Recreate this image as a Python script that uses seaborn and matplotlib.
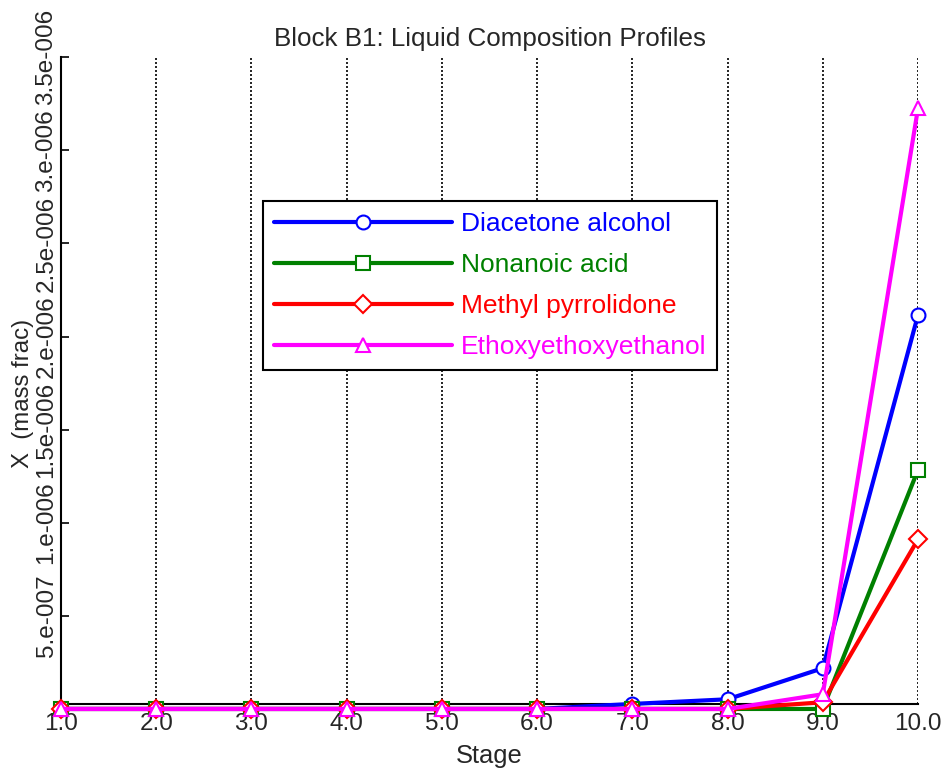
import numpy as np
import pandas as pd
import matplotlib
matplotlib.use("Agg")
import matplotlib.pyplot as plt
import seaborn as sns
from matplotlib.ticker import FixedLocator, FixedFormatter

stages = [1, 2, 3, 4, 5, 6, 7, 8, 9, 10]
diacetone = [0, 0, 0, 0, 0, 0, 2.7e-8, 5.2e-8, 2.19e-7, 2.116e-6]
nonanoic = [0, 0, 0, 0, 0, 0, 0, 0, 0, 1.284e-6]
methyl = [0, 0, 0, 0, 0, 0, 0, 0, 3.6e-8, 9.11e-7]
ethoxy = [0, 0, 0, 0, 0, 0, 0, 0, 7.9e-8, 3.226e-6]
names = ["Diacetone alcohol", "Nonanoic acid", "Methyl pyrrolidone", "Ethoxyethoxyethanol"]
colors = ["#0000FF", "#008000", "#FF0000", "#FF00FF"]
markers = ["o", "s", "D", "^"]
msizes = [10, 10, 9, 10]
ytick_vals = [5e-7, 1e-6, 1.5e-6, 2e-6, 2.5e-6, 3e-6, 3.5e-6]
ytick_labels = ["5.e-007", "1.e-006", "1.5e-006", "2.e-006", "2.5e-006", "3.e-006", "3.5e-006"]
xtick_labels = ["1.0", "2.0", "3.0", "4.0", "5.0", "6.0", "7.0", "8.0", "9.0", "10.0"]

sns.set_style("white")
plt.rcParams["font.family"] = ["Liberation Sans", "DejaVu Sans"]

fig = plt.figure(figsize=(9.46, 7.71), dpi=100)
ax = fig.add_axes([0.0645, 0.0865, 0.9059, 0.8392])

series = [diacetone, nonanoic, methyl, ethoxy]
for vals, name, c, m, ms in zip(series, names, colors, markers, msizes):
    df = pd.DataFrame({"Stage": stages, "X": vals})
    sns.lineplot(data=df, x="Stage", y="X", color=c, marker=m, markersize=ms,
                 markerfacecolor="white", markeredgecolor=c, markeredgewidth=1.5,
                 linewidth=3, label=name, clip_on=False, ax=ax, zorder=3)

ax.set_xlim(1, 10)
ax.set_ylim(2.5e-8, 3.5e-6)
ax.xaxis.set_major_locator(FixedLocator(stages))
ax.xaxis.set_major_formatter(FixedFormatter(xtick_labels))
ax.yaxis.set_major_locator(FixedLocator(ytick_vals))
ax.yaxis.set_major_formatter(FixedFormatter(ytick_labels))

for s in ["top", "right"]:
    ax.spines[s].set_visible(False)
for s in ["left", "bottom"]:
    ax.spines[s].set_color("black")
    ax.spines[s].set_linewidth(1.5)
    ax.spines[s].set_zorder(2)

ax.grid(False)
for x in stages[1:]:
    ax.axvline(x, color="black", linestyle=(0, (1.2, 1.2)), linewidth=1.2, zorder=1)

ax.tick_params(axis="y", direction="in", length=6, width=1.2, color="black", pad=2.5,
               labelsize=17.5, left=True)
ax.tick_params(axis="x", direction="in", length=0, pad=6, labelsize=17.5, bottom=True)
for lab in ax.get_yticklabels():
    lab.set_rotation(90)
    lab.set_va("center")

ax.set_xlabel("Stage", fontsize=18.4, labelpad=7)
ax.set_ylabel("X  (mass frac)", fontsize=17.3)
ax.yaxis.set_label_coords(-0.031, 0.481)
ax.set_title("Block B1: Liquid Composition Profiles", fontsize=18.7, pad=8)

leg = ax.legend(loc="upper left", bbox_to_anchor=(0.2357, 0.7775), borderaxespad=0,
                fontsize=19, handlelength=6.75, handletextpad=0.35, labelspacing=0.65,
                borderpad=0.4, frameon=True, fancybox=False, shadow=False,
                framealpha=1, edgecolor="black")
leg.get_frame().set_linewidth(1.5)
for txt, c in zip(leg.get_texts(), colors):
    txt.set_color(c)

fig.savefig("out.png", dpi=100)
